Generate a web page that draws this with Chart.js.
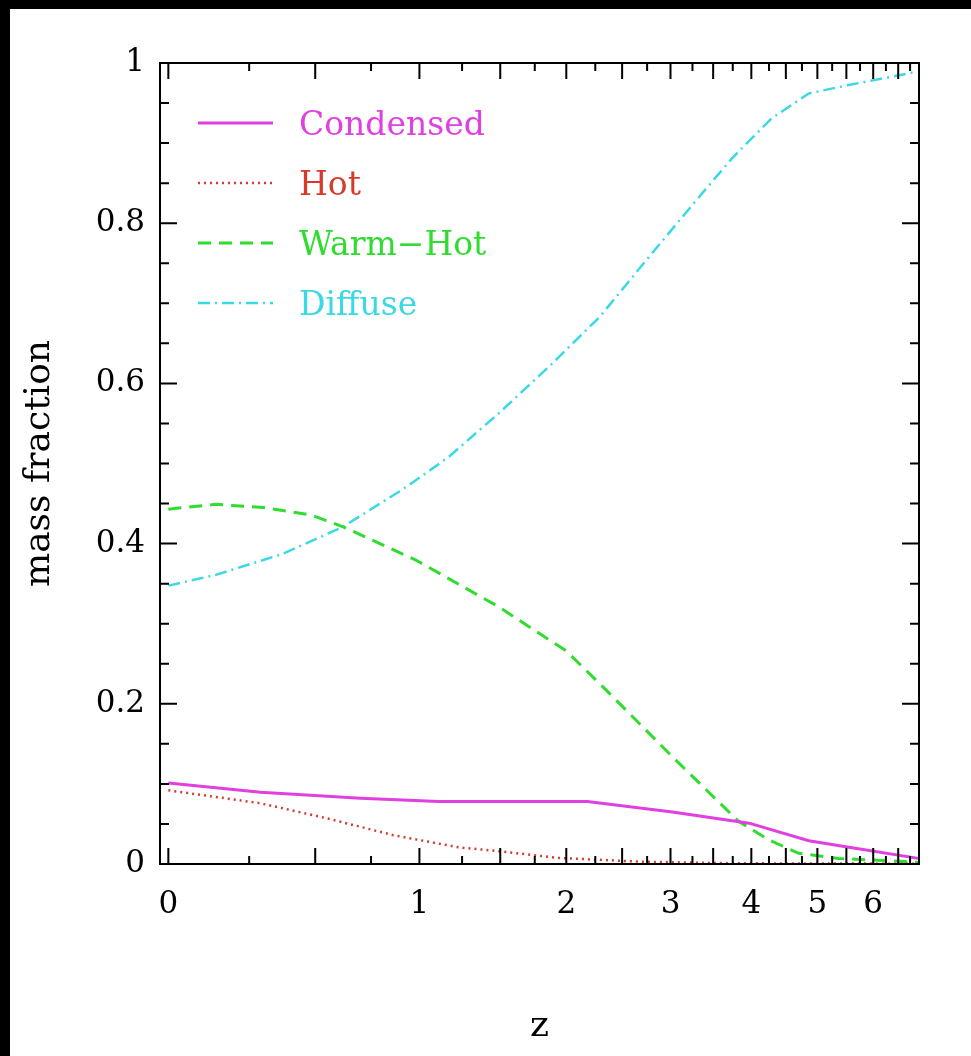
<!DOCTYPE html>
<html><head><meta charset="utf-8">
<script src="https://cdn.jsdelivr.net/npm/chart.js@4"></script>
<style>
html,body{margin:0;padding:0;background:#000;width:971px;height:1056px;overflow:hidden}
#wrap{position:absolute;left:10px;top:9px;width:961px;height:1047px;background:#fff}
canvas{display:block}
</style></head><body>
<div id="wrap"><canvas id="c" width="961" height="1047"></canvas></div>
<script>
// ---- data (redshift z, mass fraction) ----
const condensedZ    = [0, 0.29, 0.70, 1.11, 1.94, 2.18, 3.02, 3.97, 4.86, 5.66, 6.93];
const condensedFrac = [0.101, 0.0895, 0.082, 0.078, 0.078, 0.078, 0.065, 0.051, 0.029, 0.0196, 0.007];

const hotZ    = [0, 0.29, 0.55, 0.86, 1.23, 1.49, 1.69, 1.94, 2.67, 3.5, 4.5, 6.93];
const hotFrac = [0.092, 0.0758, 0.057, 0.036, 0.0208, 0.016, 0.012, 0.0075, 0.003, 0.0012, 0.0006, 0.0004];

const warmHotZ    = [0, 0.14, 0.30, 0.48, 0.62, 0.98, 1.49, 1.86, 2.0, 2.35, 3.02, 3.83, 4.25, 4.70, 5.36, 6.64, 6.93];
const warmHotFrac = [0.443, 0.449, 0.445, 0.436, 0.421, 0.3795, 0.321, 0.28, 0.266, 0.217, 0.134, 0.053, 0.030, 0.0133, 0.007, 0.003, 0.002];

const diffuseZ    = [0, 0.14, 0.37, 0.62, 0.89, 0.98, 1.17, 1.49, 1.86, 2.29, 2.77, 3.33, 3.74, 4.29, 4.86, 5.54, 5.97, 6.89];
const diffuseFrac = [0.3475, 0.361, 0.387, 0.421, 0.4648, 0.479, 0.5085, 0.5627, 0.621, 0.683, 0.758, 0.833, 0.881, 0.931, 0.962, 0.9725, 0.978, 0.989];

const seriesNames  = ['Condensed', 'Hot', 'Warm\u2212Hot', 'Diffuse'];
const xTickLabels  = [0, 1, 2, 3, 4, 5, 6];
const yTickLabels  = [0, 0.2, 0.4, 0.6, 0.8, 1];

// x axis is log10(1+z)
const toPts = (zs, fs) => zs.map((z, i) => ({x: Math.log10(1 + z), y: fs[i]}));

const FONT = "'DejaVu Serif', serif";

const styles = [
  {color: '#e040e0', dash: [],            width: 3},
  {color: '#d63a2c', dash: [2, 4],        width: 2.5},
  {color: '#2fdc2f', dash: [13, 8],       width: 3},
  {color: '#3ad9e6', dash: [12, 5, 2, 5], width: 2.5}
];
const seriesData = [
  toPts(condensedZ, condensedFrac),
  toPts(hotZ, hotFrac),
  toPts(warmHotZ, warmHotFrac),
  toPts(diffuseZ, diffuseFrac)
];

const datasets = seriesNames.map((n, i) => ({
  label: n,
  data: seriesData[i],
  showLine: true,
  borderColor: styles[i].color,
  backgroundColor: styles[i].color,
  borderDash: styles[i].dash,
  borderWidth: styles[i].width,
  pointRadius: 0,
  tension: 0,
  fill: false
}));

const framePlugin = {
  id: 'frameTicks',
  afterDatasetsDraw(chart) {
    const {ctx, chartArea: a, scales: {x, y}} = chart;
    ctx.save();
    ctx.strokeStyle = '#000';
    ctx.lineWidth = 2;
    ctx.setLineDash([]);
    ctx.strokeRect(a.left, a.top, a.right - a.left, a.bottom - a.top);
    ctx.beginPath();
    for (let k = 0; k <= 27; k++) {
      const z = k * 0.25;
      const px = x.getPixelForValue(Math.log10(1 + z));
      if (px > a.right) continue;
      const len = (k % 2 === 0) ? 16 : 8;
      ctx.moveTo(px, a.bottom); ctx.lineTo(px, a.bottom - len);
      ctx.moveTo(px, a.top); ctx.lineTo(px, a.top + len);
    }
    for (let k = 0; k <= 20; k++) {
      const py = y.getPixelForValue(k * 0.05);
      const len = (k % 4 === 0) ? 17 : 9;
      ctx.moveTo(a.left, py); ctx.lineTo(a.left + len, py);
      ctx.moveTo(a.right, py); ctx.lineTo(a.right - len, py);
    }
    ctx.stroke();
    ctx.restore();
  },
  afterDraw(chart) {
    const {ctx} = chart;
    ctx.save();
    const lineY = [114, 174, 234, 294];
    chart.data.datasets.forEach((ds, i) => {
      ctx.strokeStyle = ds.borderColor;
      ctx.lineWidth = ds.borderWidth;
      ctx.setLineDash(ds.borderDash);
      ctx.beginPath();
      ctx.moveTo(188, lineY[i]);
      ctx.lineTo(263, lineY[i]);
      ctx.stroke();
      ctx.setLineDash([]);
      ctx.fillStyle = ds.borderColor;
      ctx.font = "33px " + FONT;
      ctx.textBaseline = 'alphabetic';
      ctx.textAlign = 'left';
      ctx.fillText(ds.label, 289, lineY[i] + 12);
    });
    ctx.restore();
  }
};

new Chart(document.getElementById('c'), {
  type: 'scatter',
  data: {datasets},
  options: {
    responsive: false,
    animation: false,
    devicePixelRatio: 1,
    layout: {padding: {top: 54, right: 52, left: 0, bottom: 0}},
    plugins: {legend: {display: false}, tooltip: {enabled: false}},
    scales: {
      x: {
        type: 'linear',
        min: -0.01,
        max: 0.9,
        grid: {display: false, drawTicks: false},
        border: {display: false},
        afterBuildTicks: (s) => { s.ticks = xTickLabels.map(z => ({value: Math.log10(1 + z)})); },
        afterFit: (s) => { s.height = 192; },
        ticks: {
          autoSkip: false, maxRotation: 0, padding: 22, color: '#000',
          font: {family: FONT, size: 31},
          callback: (v) => String(Math.round(Math.pow(10, v) - 1))
        },
        title: {display: true, text: 'z', color: '#000', font: {family: FONT, size: 36}, padding: {top: 0, bottom: 8}}
      },
      y: {
        type: 'linear',
        min: 0,
        max: 1,
        grid: {display: false, drawTicks: false},
        border: {display: false},
        afterBuildTicks: (s) => { s.ticks = yTickLabels.map(v => ({value: v})); },
        afterFit: (s) => { s.width = 150; },
        ticks: {
          padding: 15, color: '#000',
          font: {family: FONT, size: 31},
          callback: (v) => (v === 0 ? '0' : v === 1 ? '1' : v.toFixed(1))
        },
        title: {display: true, text: 'mass fraction', color: '#000', font: {family: FONT, size: 36}, padding: {top: 8, bottom: 0}}
      }
    }
  },
  plugins: [framePlugin]
});
</script>
</body></html>
